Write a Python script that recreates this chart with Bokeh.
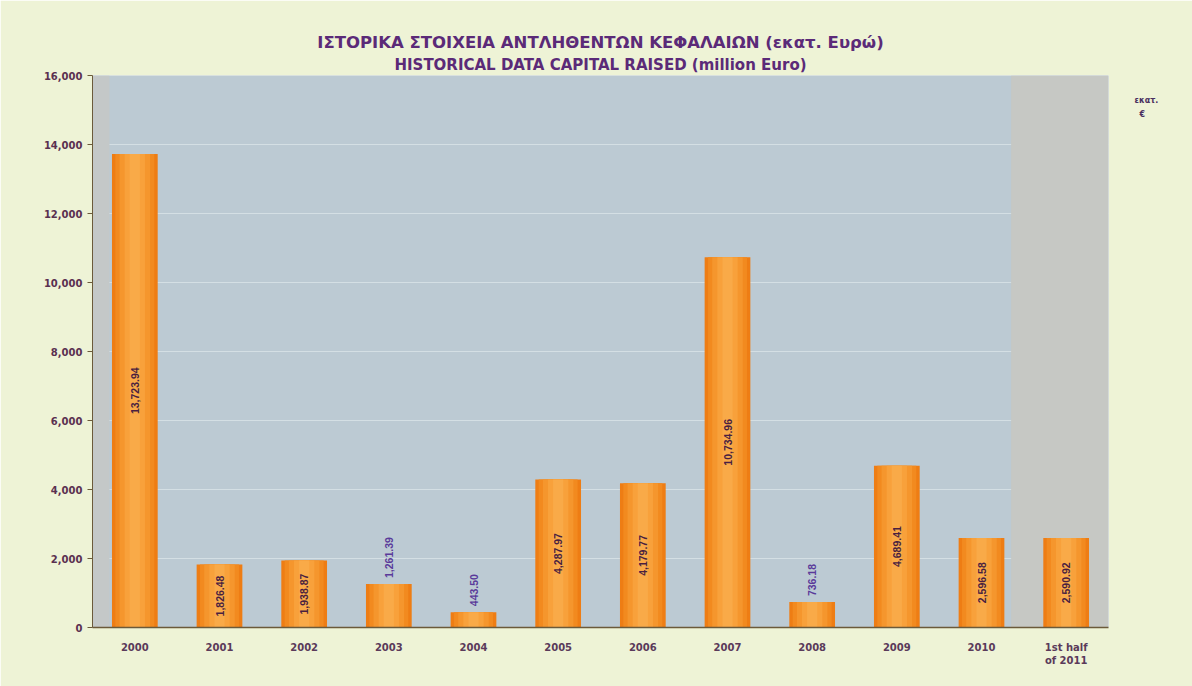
import numpy as np
from bokeh.plotting import figure
from bokeh.models import (ColumnDataSource, NumeralTickFormatter, FixedTicker, Title,
                          BoxAnnotation, LinearAxis)
from bokeh.core.properties import value
from bokeh.embed import file_html
from bokeh.resources import INLINE

categories = ["2000", "2001", "2002", "2003", "2004", "2005", "2006", "2007",
              "2008", "2009", "2010", "1st half\nof 2011"]
values = [13723.94, 1826.48, 1938.87, 1261.39, 443.50, 4287.97, 4179.77,
          10734.96, 736.18, 4689.41, 2596.58, 2590.92]
y_ticks = [0, 2000, 4000, 6000, 8000, 10000, 12000, 14000, 16000]
title_lines = ["ΙΣΤΟΡΙΚΑ ΣΤΟΙΧΕΙΑ ΑΝΤΛΗΘΕΝΤΩΝ ΚΕΦΑΛΑΙΩΝ (εκατ. Ευρώ)",
               "HISTORICAL DATA CAPITAL RAISED (million Euro)"]
unit_lines = ["εκατ.", "€"]

labels = ["{:,.2f}".format(v) for v in values]
inside = [v >= 1500 for v in values]

src_in = ColumnDataSource(dict(
    x=[c for c, i in zip(categories, inside) if i],
    y=[v / 2 for v, i in zip(values, inside) if i],
    t=[l for l, i in zip(labels, inside) if i]))
src_out = ColumnDataSource(dict(
    x=[c for c, i in zip(categories, inside) if not i],
    y=[v for v, i in zip(values, inside) if not i],
    t=[l for l, i in zip(labels, inside) if not i]))
src = ColumnDataSource(dict(x=categories, top=values))

p = figure(x_range=categories, y_range=(0, 16000), width=1192, height=686,
           output_backend="svg", toolbar_location=None,
           min_border_left=92, min_border_right=84, min_border_top=75, min_border_bottom=59)
p.x_range.range_padding = 0
p.background_fill_color = "#bccad3"
p.border_fill_color = "#eef3d6"
p.outline_line_color = None

def style_title(t, size, standoff):
    t.align = "center"
    t.text_font = "DejaVu Sans"
    t.text_font_size = size
    t.text_font_style = "bold"
    t.text_color = "#5b2a78"
    t.standoff = standoff

p.title.text = title_lines[0]
style_title(p.title, "16.5px", 0)
t2 = Title(text=title_lines[1])
style_title(t2, "15px", 4)
p.add_layout(t2, "above")

# greyish photo tint on the edges of the plotting area
p.add_layout(BoxAnnotation(left=10.85, right=12, fill_color="#c6c8c4",
                           fill_alpha=1.0, line_color=None, level="underlay"))
p.add_layout(BoxAnnotation(left=0, right=0.2, fill_color="#c4c8c8",
                           fill_alpha=1.0, line_color=None, level="underlay"))

# bars with a simple cylinder-like shading
shades = [(0.54, "#ee7d14"), (0.46, "#f28a1f"), (0.36, "#f5962d"),
          (0.24, "#f8a13b"), (0.12, "#f9aa48")]
for w, c in shades:
    p.vbar(x="x", top="top", width=w, source=src, color=c, line_color=None)

p.text(x="x", y="y", text="t", source=src_in, angle=np.pi / 2,
       text_align="center", text_baseline="middle",
       text_font=value("Liberation Sans"), text_font_style="bold",
       text_font_size="10.5px", text_color="#4a1f40")
p.text(x="x", y="y", text="t", source=src_out, angle=np.pi / 2,
       text_align="left", text_baseline="middle", y_offset=-6,
       text_font=value("Liberation Sans"), text_font_style="bold",
       text_font_size="10.5px", text_color="#5a3a9a")

p.yaxis.ticker = FixedTicker(ticks=y_ticks)
p.yaxis.formatter = NumeralTickFormatter(format="0,0")
p.yaxis.major_label_text_font = "DejaVu Sans"
p.yaxis.major_label_text_font_size = "10px"
p.yaxis.major_label_text_font_style = "bold"
p.yaxis.major_label_text_color = "#5a3050"
p.yaxis.minor_tick_line_color = None
p.yaxis.major_tick_in = 0
p.yaxis.major_tick_out = 5
p.yaxis.axis_line_color = "#6b5a3a"
p.yaxis.major_tick_line_color = "#6b5a3a"

p.xaxis.major_label_text_font = "DejaVu Sans"
p.xaxis.major_label_text_font_size = "10px"
p.xaxis.major_label_text_font_style = "bold"
p.xaxis.major_label_text_color = "#5a3a5a"
p.xaxis.axis_line_color = "#6b5a3a"
p.xaxis.axis_line_width = 1.5
p.xaxis.major_tick_line_color = None
p.xaxis.major_label_standoff = 8

p.xgrid.grid_line_color = None
p.ygrid.grid_line_color = "#e4ecf0"
p.ygrid.grid_line_alpha = 0.6

# unit note at the upper right, outside the plotting area
def unit_axis(tick, text, standoff):
    return LinearAxis(ticker=FixedTicker(ticks=[tick]),
                      major_label_overrides={tick: text},
                      axis_line_color=None, major_tick_line_color=None,
                      minor_tick_line_color=None, major_label_standoff=standoff,
                      major_label_text_font="DejaVu Sans", major_label_text_font_size="8px",
                      major_label_text_font_style="bold", major_label_text_color="#4a3060")

p.add_layout(unit_axis(15280, unit_lines[0], 20), "right")
p.add_layout(unit_axis(14860, unit_lines[1], -28), "right")

open("out.html", "w").write(file_html(p, INLINE))
